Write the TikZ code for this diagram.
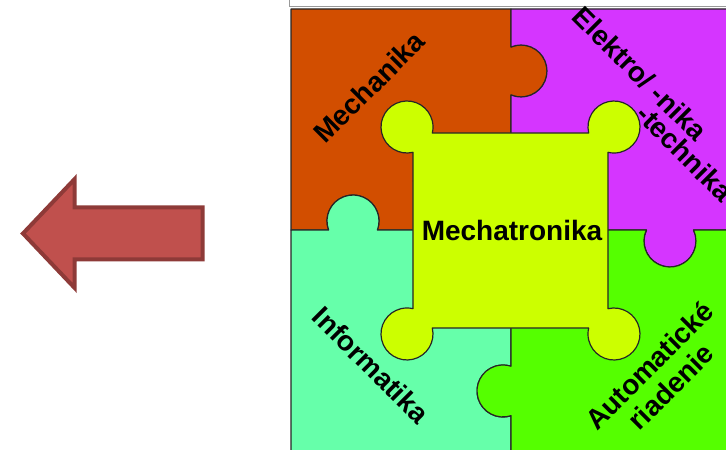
\documentclass[tikz,border=0pt]{standalone}
\usepackage{fontspec}
\setmainfont{Liberation Sans}
\definecolor{mechcol}{HTML}{D24E00}
\definecolor{elekcol}{HTML}{D535FF}
\definecolor{infocol}{HTML}{66FFAA}
\definecolor{autocol}{HTML}{55FF00}
\definecolor{mechacol}{HTML}{CCFF00}
\definecolor{arrowfill}{HTML}{C0504D}
\definecolor{arrowline}{HTML}{8E3A38}
\begin{document}
\begin{tikzpicture}[x=1pt, y=1pt,
    piece/.style={draw=black!85, line width=1.2pt, line join=round},
    piecetext/.style={font=\bfseries\fontsize{28}{30}\selectfont, align=center, inner sep=0pt}]
    \useasboundingbox (0,0) rectangle (726,450);
    \clip (0,0) rectangle (726,450);

    %% Pieces
    \draw [piece, fill=mechcol] (291,441) -- (511,441) -- (511,403) arc[start angle=112.6, end angle=-112.6, radius=26]
        -- (511,220) -- (377.4,220) arc[start angle=-20.2, end angle=200.2, radius=26] -- (291,220) -- cycle;
    \draw [piece, fill=elekcol] (511,441) -- (735,441) -- (735,220) -- (693.6,220) arc[start angle=25, end angle=-205, radius=26]
        -- (511,220) -- (511,355) arc[start angle=-112.6, end angle=112.6, radius=26] -- cycle;
    \draw [piece, fill=infocol] (291,220) -- (328.6,220) arc[start angle=200.2, end angle=-20.2, radius=26]
        -- (511,220) -- (511,83.7) arc[start angle=72.1, end angle=287.9, radius=26] -- (511,-5) -- (291,-5) -- cycle;
    \draw [piece, fill=autocol] (511,220) -- (646.4,220) arc[start angle=155, end angle=385, radius=26]
        -- (735,220) -- (735,-5) -- (511,-5) -- (511,34.3) arc[start angle=-72.1, end angle=-287.9, radius=26] -- cycle;
    \draw [piece, fill=mechacol] (432.3,317) -- (588.7,317) arc[start angle=193.3, end angle=-103.3, radius=26]
        -- (608,141.3) arc[start angle=103.3, end angle=-193.3, radius=26]
        -- (432.3,122) arc[start angle=13.3, end angle=-283.3, radius=26]
        -- (413,297.7) arc[start angle=-76.7, end angle=-373.3, radius=26] -- cycle;

    %% Frame
    \draw [black!40, line width=1pt] (289,450) -- (289,443) -- (726,443);

    %% Labels
    \node [piecetext, rotate=45] (mech) at (369,363) {Mechanika};
    \node [piecetext, rotate=-45] (elek) at (640,376.5) {Elektro/ -nika};
    \node [piecetext, rotate=-45] (elekb) at (685,297) {-technika};
    \node [piecetext, rotate=-45] (info) at (371,85) {Informatika};
    \node [piecetext, rotate=45] (auto) at (660,74) {Automatické\\riadenie};
    \node [piecetext] (mecha) at (512,220) {Mechatronika};

    %% Arrow
    \draw [fill=arrowfill, draw=arrowline, line width=4pt] (23,216.5) -- (74.7,271) -- (74.7,242.5) -- (202.5,242.5)
        -- (202.5,190.5) -- (74.7,190.5) -- (74.7,162) -- cycle;
\end{tikzpicture}
\end{document}
